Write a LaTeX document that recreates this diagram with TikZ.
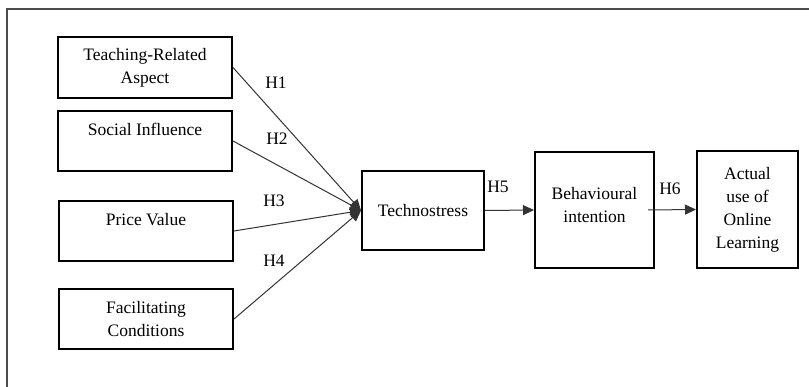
\documentclass[tikz,border=0pt]{standalone}
\usepackage{fontspec}
\setmainfont{Liberation Serif}
\usetikzlibrary{arrows.meta}
\begin{document}
\begin{tikzpicture}[x=1pt, y=-1pt, every node/.style={font=\fontsize{17.5}{23}\selectfont},
  construct/.style={draw=black, line width=2pt, align=center, inner sep=0pt},
  hyp/.style={-{Triangle[length=11pt,width=10pt]}, draw=black!80, line width=1pt}]
  \useasboundingbox (0,0) rectangle (809,387);
  \draw[black!70, line width=1.5pt] (7,387) -- (7,9) -- (809,9);
  \node[construct, minimum width=174pt, minimum height=61pt] (tra) at (145,67.5) {Teaching-Related\\Aspect};
  \node[construct, minimum width=174pt, minimum height=60pt] (si) at (145,141) {Social Influence\\~};
  \node[construct, minimum width=174pt, minimum height=60pt] (pv) at (146,231) {Price Value\\~};
  \node[construct, minimum width=174pt, minimum height=60pt] (fc) at (146,319) {Facilitating\\Conditions};
  \node[construct, minimum width=122pt, minimum height=79pt] (ts) at (423,210.5) {Technostress};
  \node[construct, minimum width=119pt, minimum height=116pt] (bi) at (594.5,210) {Behavioural\\intention\\[-12pt]~};
  \node[construct, minimum width=101pt, minimum height=117pt] (au) at (747.5,209.5) {Actual\\use of\\Online\\Learning};
  \draw[hyp] (tra.east) -- (ts.west);
  \draw[hyp] (si.east) -- (ts.west);
  \draw[hyp] (pv.east) -- (ts.west);
  \draw[hyp] (fc.east) -- (ts.west);
  \draw[hyp] (ts.east) -- (bi.west);
  \draw[hyp] ([xshift=-7pt]bi.east) -- (au.west);
  \node (h1) at (276,83) {H1};
  \node (h2) at (277,139) {H2};
  \node (h3) at (274,201) {H3};
  \node (h4) at (274,261) {H4};
  \node (h5) at (498,187) {H5};
  \node (h6) at (670,189) {H6};
\end{tikzpicture}
\end{document}
